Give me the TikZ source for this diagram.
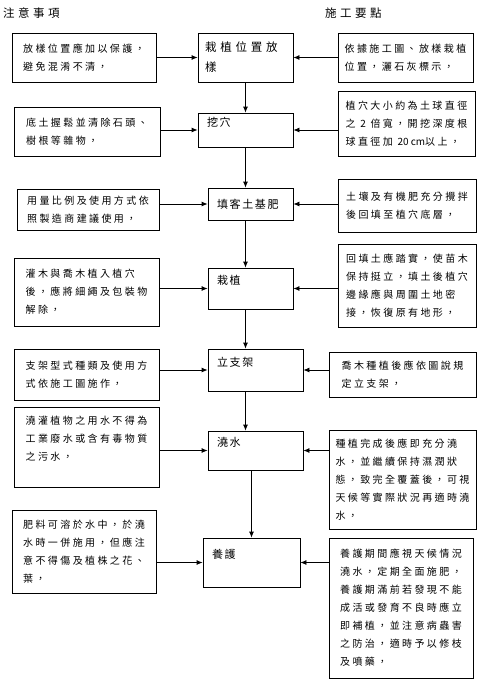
\documentclass[tikz,border=0pt]{standalone}
\usepackage{fontspec}
\usepackage{tikz}
\usetikzlibrary{arrows.meta,positioning}
\newfontfamily\notefont[LetterSpace=24]{Noto Sans CJK TC}
\newfontfamily\stepfont[LetterSpace=15]{Noto Sans CJK TC}
\newfontfamily\firstfont[LetterSpace=33]{Noto Sans CJK TC}
\newfontfamily\headfont[LetterSpace=30]{Noto Sans CJK TC}
\newfontfamily\latinfont{Noto Sans CJK TC}

\begin{document}
\begin{tikzpicture}[x=1pt,y=-1pt,
  notebox/.style={draw,line width=0.8pt,align=left,inner sep=0pt,
                  font=\notefont\fontsize{10}{18}\selectfont},
  stepbox/.style={draw,line width=0.8pt,align=left,inner xsep=9pt,inner ysep=0pt,
                  font=\stepfont\fontsize{11}{17}\selectfont},
  ok/.style={-{Latex[length=6pt,width=5pt]},line width=0.8pt}]
\useasboundingbox (0,0) rectangle (484,683);
% headings
\node[anchor=west,inner sep=0pt,font=\headfont\fontsize{11.5}{13}\selectfont] (h1) at (3,13) {注意事項};
\node[anchor=west,inner sep=0pt,font=\headfont\fontsize{11.5}{13}\selectfont] (h2) at (325,13) {施工要點};
% steps
\node[stepbox,inner xsep=7pt,text width=81pt,minimum height=49pt,font=\firstfont\fontsize{11.5}{20}\selectfont] (a1) at (245.5,57.5) {栽植位置放\\樣};
\node[stepbox,text width=77pt,minimum height=34pt] (a2) at (245.5,130) {挖穴\\\mbox{}};
\node[stepbox,text width=67pt,minimum height=32pt] (a3) at (250.5,204) {填客土基肥};
\node[stepbox,text width=67pt,minimum height=41pt] (a4) at (250.5,288.5) {栽植\\\mbox{}};
\node[stepbox,text width=77pt,minimum height=42pt] (a5) at (255.5,370) {立支架\\\mbox{}};
\node[stepbox,text width=77pt,minimum height=39pt] (a6) at (255.5,450.5) {澆水\\\mbox{}};
\node[stepbox,text width=79pt,minimum height=49pt] (a7) at (251.5,562.5) {養護\\\mbox{}};
% notes
\node[notebox,minimum width=144pt,minimum height=49pt] (n1) at (84,57.5) {放樣位置應加以保護，\\避免混淆不清，};
\node[notebox,minimum width=146pt,minimum height=49pt] (n2) at (87,131.5) {底土握鬆並清除石頭、\\樹根等雜物，};
\node[notebox,minimum width=142pt,minimum height=41pt] (n3) at (88,209.5) {用量比例及使用方式依\\照製造商建議使用，};
\node[notebox,minimum width=145pt,minimum height=68pt] (n4) at (86.5,292) {灌木與喬木植入植穴\\後，應將細繩及包裝物\\解除，};
\node[notebox,minimum width=145pt,minimum height=51pt] (n5) at (86.5,374.5) {支架型式種類及使用方\\式依施工圖施作，};
\node[notebox,minimum width=145pt,minimum height=80pt] (n6) at (86.5,447) {澆灌植物之用水不得為\\工業廢水或含有毒物質\\之污水，\\\mbox{}};
\node[notebox,minimum width=144pt,minimum height=83pt] (n7) at (84,551.5) {肥料可溶於水中，於澆\\水時一併施用，但應注\\意不得傷及植株之花、\\葉，};
% points
\node[notebox,minimum width=135pt,minimum height=49pt] (p1) at (405.5,57.5) {依據施工圖、放樣栽植\\位置，灑石灰標示，};
\node[notebox,minimum width=137pt,minimum height=65pt] (p2) at (406.5,123.5) {植穴大小約為土球直徑\\之 {\latinfont 2} 倍寬，開挖深度根\\球直徑加 {\latinfont 20 cm}以上，};
\node[notebox,minimum width=138pt,minimum height=53pt] (p3) at (407,205.5) {土壤及有機肥充分攪拌\\後回填至植穴底層，};
\node[notebox,minimum width=138pt,minimum height=83pt] (p4) at (407,285.5) {回填土應踏實，使苗木\\保持挺立，填土後植穴\\邊緣應與周圍土地密\\接，恢復原有地形，};
\node[notebox,minimum width=147pt,minimum height=45pt] (p5) at (402.5,374.5) {喬木種植後應依圖說規\\定立支架，};
\node[notebox,minimum width=147pt,minimum height=99pt] (p6) at (402.5,479.5) {種植完成後應即充分澆\\水，並繼續保持濕潤狀\\態，致完全覆蓋後，可視\\天候等實際狀況再適時澆\\水，};
\node[notebox,minimum width=144pt,minimum height=140pt] (p7) at (401,608) {養護期間應視天候情況\\澆水，定期全面施肥，\\養護期滿前若發現不能\\成活或發育不良時應立\\即補植，並注意病蟲害\\之防治，適時予以修枝\\及噴藥，};
% connectors
\foreach \i in {1,...,7} {
  \draw[ok] (n\i.east |- a\i.west) -- (a\i.west);
  \draw[ok] (p\i.west |- a\i.east) -- (a\i.east);
}
\draw[ok] (a1) -- (a2);
\foreach \x/\y in {a2/a3, a3/a4, a4/a5, a5/a6} \draw[ok] (a1.south |- \x.south) -- (a1.south |- \y.north);
\draw[ok] (a6.south -| a7.north) -- (a7.north);
\end{tikzpicture}
\end{document}
